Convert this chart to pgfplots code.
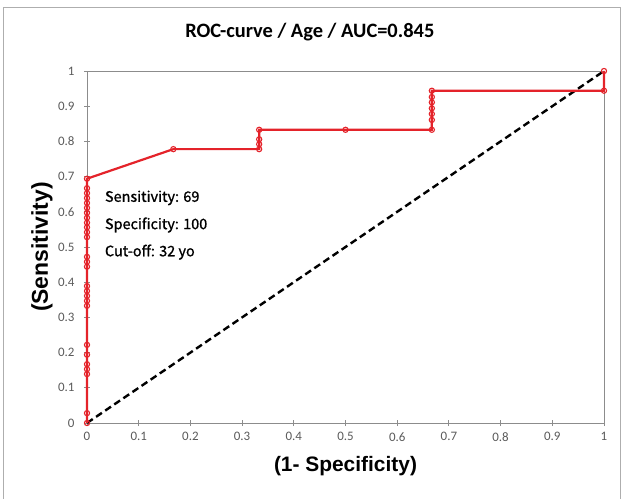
\documentclass[border=0pt]{standalone}
\usepackage{pgfplots}
\pgfplotsset{compat=1.18}
\usepackage{fontspec}
\setmainfont{Carlito}
\newfontfamily\arialb{Liberation Sans}[BoldFont={* Bold}]
\newfontfamily\gothic{Noto Sans CJK JP}[FakeBold=1]

\definecolor{rocred}{RGB}{228,35,42}
\definecolor{axgray}{RGB}{140,140,140}
\definecolor{lblgray}{RGB}{90,90,90}

\begin{document}
\begin{tikzpicture}
\path[use as bounding box] (0,0) rectangle (623bp,499bp);
\draw[axgray!70, line width=0.8bp] (3bp,-2bp) -- (3bp,492bp) -- (620bp,492bp) -- (620bp,-2bp);
\begin{axis}[
    at={(87bp,76bp)}, anchor=south west,
    scale only axis,
    width=517bp, height=352bp,
    xmin=0, xmax=1, ymin=0, ymax=1,
    xtick={0,0.1,...,1}, ytick={0,0.1,...,1},
    xtick pos=bottom, ytick pos=left,
    tick align=center,
    major tick length=6bp,
    axis line style={axgray, line width=0.9bp},
    every tick/.style={axgray, line width=0.9bp},
    /pgf/number format/assume math mode=true,
    /pgf/number format/fixed,
    ticklabel style={font=\fontsize{13}{14}\selectfont, text=lblgray},
    xticklabel style={yshift=-3bp},
    yticklabel style={xshift=-6bp},
    title={\bfseries ROC-curve / Age / AUC=0.845},
    title style={at={(axis description cs:0.431,1.094)}, anchor=center,
                 font=\fontsize{20.5}{22}\selectfont},
    xlabel={\arialb\bfseries (1- Specificity)},
    xlabel style={at={(axis description cs:0.5,-0.122)}, anchor=center,
                  font=\fontsize{21}{23}\selectfont},
    ylabel={\arialb\bfseries (Sensitivity)},
    ylabel style={at={(axis description cs:-0.087,0.5)}, anchor=center, rotate=0,
                  font=\fontsize{23}{25}\selectfont},
    clip=false,
]
% reference diagonal
\addplot[black, line width=2.4bp, dash pattern=on 7bp off 4bp] coordinates {(0,0) (1,1)};
% ROC curve
\addplot[rocred, line width=2.2bp,
         mark=o, mark size=2.6bp,
         mark options={solid, line width=1.1bp, fill=white}]
coordinates {
(0,0) (0,0.028) (0,0.139) (0,0.153) (0,0.167) (0,0.194) (0,0.222)
(0,0.333) (0,0.347) (0,0.361) (0,0.375) (0,0.389)
(0,0.444) (0,0.458) (0,0.472)
(0,0.528) (0,0.542) (0,0.556) (0,0.569) (0,0.583) (0,0.597) (0,0.611)
(0,0.625) (0,0.639) (0,0.653) (0,0.667) (0,0.694)
(0.167,0.778) (0.333,0.778) (0.333,0.792) (0.333,0.806) (0.333,0.833)
(0.5,0.833) (0.667,0.833) (0.667,0.861) (0.667,0.878) (0.667,0.894)
(0.667,0.911) (0.667,0.926) (0.667,0.944) (1,0.944) (1,1)
};
\node[anchor=west, yshift=-3bp, font=\gothic\fontsize{14.5}{16}\selectfont] at (axis description cs:0.028,0.648) {Sensitivity: 69};
\node[anchor=west, yshift=-3bp, font=\gothic\fontsize{14.5}{16}\selectfont] at (axis description cs:0.028,0.571) {Specificity: 100};
\node[anchor=west, yshift=-3bp, font=\gothic\fontsize{14.5}{16}\selectfont] at (axis description cs:0.028,0.494) {Cut-off: 32 yo};
\end{axis}
\end{tikzpicture}
\end{document}
